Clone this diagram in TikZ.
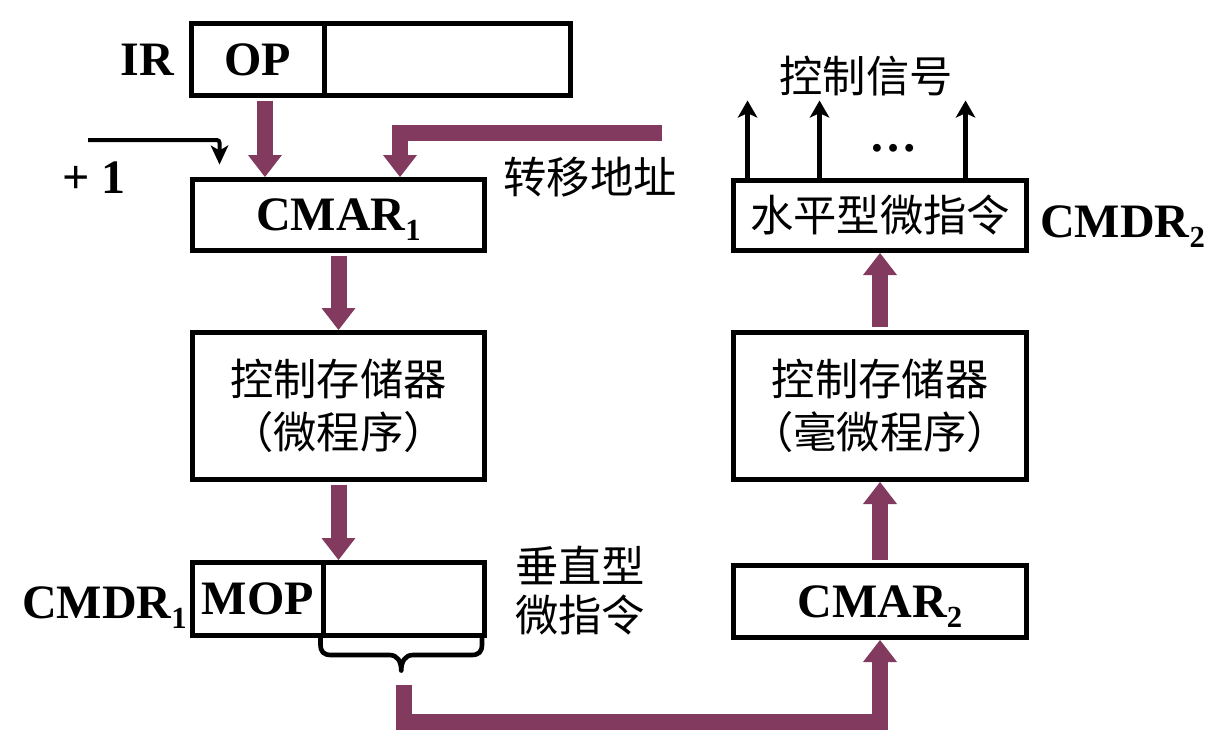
\documentclass[tikz,border=0pt]{standalone}
\usepackage{fontspec}
\setmainfont{Liberation Serif}
\newfontfamily\cjk{Noto Sans CJK SC}
\usetikzlibrary{arrows.meta}
\definecolor{buspurple}{RGB}{131,58,95}
\newcommand\lat{\bfseries\fontsize{36pt}{40pt}\selectfont}
\newcommand\han{\cjk\fontsize{32.5pt}{40pt}\selectfont}
\newcommand\subsc[1]{\smash{\raisebox{-7.5pt}{\fontsize{23pt}{23pt}\selectfont #1}}}

\begin{document}
\begin{tikzpicture}[x=0.75pt,y=-0.75pt,
  reg/.style={draw, line width=3.75pt, inner sep=0pt, align=center},
  lattext/.style={font=\lat, inner sep=0pt},
  hantext/.style={font=\han, inner sep=0pt, align=center},
  bus/.style={draw=buspurple, line width=12pt, line join=miter,
    -{Triangle[length=16.5pt,width=25.5pt,line width=0pt]}},
  wire/.style={draw=black, line width=3pt,
    -{Stealth[length=14.5pt,width=13.5pt,inset=4pt,line width=0pt]}},
  sig/.style={draw=black, line width=3.4pt,
    -{Stealth[length=13pt,width=15pt,inset=3.5pt,line width=0pt]}},
  bracepath/.style={draw, line width=3.5pt, line cap=round, line join=round}]

\useasboundingbox (0,0) rectangle (1230,744);

% instruction register
\node[reg, font=\lat, minimum width=99.375pt, minimum height=54pt] (op) at (257.75,59.5) {OP};
\node[reg, minimum width=184.875pt, minimum height=54pt] (addr) at (447.25,59.5) {};
\node[lattext] (irlab) at (147,60) {IR};

% microprogram level
\node[reg, font=\lat, minimum width=219pt, minimum height=53.25pt] (cmarA) at (338.5,215) {CMAR\subsc{1}};
\node[reg, font=\han, minimum width=219pt, minimum height=110.25pt] (csA) at (338.5,406) {控制存储器\\（微程序）};
\node[reg, font=\lat, minimum width=97.875pt, minimum height=54.75pt] (mop) at (257.75,599) {MOP};
\node[reg, minimum width=121.125pt, minimum height=54.75pt] (vfield) at (403.75,599) {};
\node[lattext, anchor=base east] (cmdrAlab) at (187,618) {CMDR\subsc{1}};
\node[hantext, font={\cjk\fontsize{32.5pt}{36.75pt}\selectfont}] (vlab) at (580,590.5) {垂直型\\微指令};
\node[lattext] (inclab) at (94,178) {+ 1};
\node[hantext] (jmplab) at (590,177) {转移地址};

% nanoprogram level
\node[reg, font=\han, minimum width=219.75pt, minimum height=52.5pt] (cmdrB) at (880,215.5) {水平型微指令};
\node[reg, font=\han, minimum width=219.75pt, minimum height=110.25pt] (csB) at (880,406) {控制存储器\\（毫微程序）};
\node[reg, font=\lat, minimum width=219.75pt, minimum height=54pt] (cmarB) at (880,601.5) {CMAR\subsc{2}};
\node[lattext, anchor=base west] (cmdrBlab) at (1040,237) {CMDR\subsc{2}};
\node[hantext] (siglab) at (866,76) {控制信号};
\node[lattext] (dots) at (893,148) {…};

% free ends of the inputs
\coordinate (jmpsrc) at (662,132.5);
\coordinate (incsrc) at (88,140);

% data paths
\draw[bus] ([yshift=-1.9pt,xshift=5.4pt]op.south) -- ([xshift=5.4pt]op.south |- cmarA.north);
\draw[bus] (jmpsrc) -| ([xshift=46.125pt]cmarA.north);
\draw[bus] ([yshift=-1.9pt]cmarA.south) -- (csA.north);
\draw[bus] ([yshift=-1.9pt]csA.south) -- (csA.south |- mop.north);
\draw[bus] ([yshift=-34.9pt]vfield.south) -- ++(0,37.5) -| (cmarB.south);
\draw[bus] ([yshift=1.9pt]cmarB.north) -- (csB.south);
\draw[bus] ([yshift=1.9pt]csB.north) -- (cmdrB.south);

% +1 input
\draw[wire, rounded corners=2pt] (incsrc) -| ([xshift=22.125pt,yshift=9.375pt]cmarA.north west);

% control signal outputs
\draw[sig] ([xshift=12.4pt]cmdrB.north west) -- ++(0,-77.5);
\draw[sig] ([xshift=66.4pt]cmdrB.north west) -- ++(0,-77.5);
\draw[sig] ([xshift=175.9pt]cmdrB.north west) -- ++(0,-77.5);

% brace under the vertical microinstruction field
\draw[bracepath] (vfield.south west) -- ++(0,6)
  .. controls +(0,8) and +(-8,0) .. ++(11,11) -- ++(58,0)
  .. controls +(8,0) and +(0,-9) .. ++(11.75,15.5)
  .. controls +(0,-9) and +(-8,0) .. ++(11.75,-15.5) -- ++(58,0)
  .. controls +(8,0) and +(0,8) .. ++(11,-11) -- ++(0,-6);
\end{tikzpicture}
\end{document}
